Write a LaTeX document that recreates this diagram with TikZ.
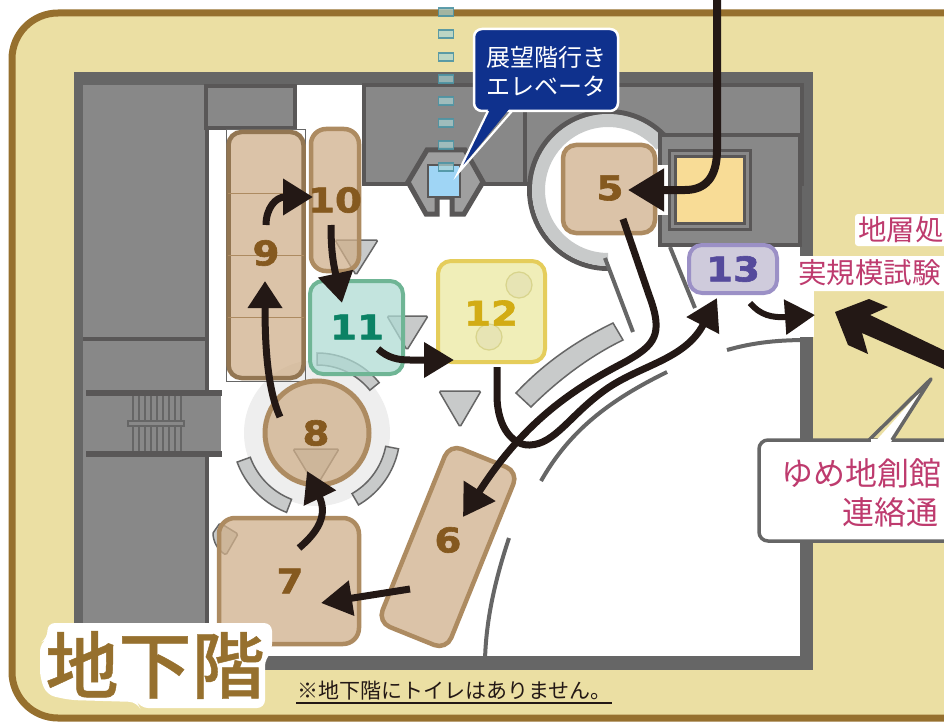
\documentclass[tikz,border=0pt]{standalone}
\usepackage{fontspec}
\usetikzlibrary{arrows.meta}
\newfontfamily\jp{Noto Sans CJK JP}
\newfontfamily\jpm[FakeBold=0.6]{Noto Sans CJK JP Medium}
\newfontfamily\numf[FakeStretch=1.14,FakeBold=1.8]{DejaVu Sans Bold}
\definecolor{sandc}{HTML}{EBDFA3}
\definecolor{brownc}{HTML}{96702E}
\definecolor{wallc}{HTML}{666666}
\definecolor{blockc}{HTML}{888888}
\definecolor{edgec}{HTML}{595757}
\definecolor{lightc}{HTML}{C8CACA}
\definecolor{tanc}{HTML}{D0B08B}
\definecolor{tanedge}{HTML}{AD8B61}
\definecolor{numc}{HTML}{85591F}
\definecolor{inkc}{HTML}{231815}
\definecolor{navyc}{HTML}{0F318D}
\definecolor{pinkc}{HTML}{BE3B6E}
\definecolor{mintc}{HTML}{AFDBD4}
\definecolor{mintedge}{HTML}{6FB595}
\definecolor{lemonc}{HTML}{F0EEB8}
\definecolor{lemonedge}{HTML}{E5CD5B}
\definecolor{lemontext}{HTML}{D2AC14}
\definecolor{lilacc}{HTML}{CFCBDC}
\definecolor{lilacedge}{HTML}{9B90C6}
\definecolor{lilactext}{HTML}{554A9C}
\definecolor{greentext}{HTML}{0B8265}
\definecolor{machinec}{HTML}{F8DC96}
\definecolor{skyc}{HTML}{9FD5F5}
\definecolor{dotedge}{HTML}{4E94A3}
\definecolor{dotfill}{HTML}{A9D3D3}
\newcommand{\sectorband}[7][]{\draw[bandc,#1] plot[domain=#6:#7,samples=24] ({#2+#4*cos(\x)},{#3+#4*sin(\x)}) -- plot[domain=#7:#6,samples=24] ({#2+#5*cos(\x)},{#3+#5*sin(\x)}) -- cycle;}
\tikzset{
  bandc/.style={fill=lightc,draw=wallc,line width=1.5pt},
  room/.style={draw=tanedge,fill=tanc,fill opacity=.75,line width=4.5pt,rounded corners=13pt,inner sep=0pt,outer sep=0pt},
  num/.style={font=\numf\fontsize{34}{34}\selectfont,text=numc,inner sep=0pt},
  flow/.style={draw=inkc,line width=7pt},
  headL/.style={-{Triangle[length=31pt,width=36pt]}},
  tri/.style={draw=wallc,fill=lightc,line width=1.5pt,rounded corners=1.5pt},
  arcw/.style={draw=wallc,line width=4pt},
  pink/.style={font=\jp\fontsize{28.5}{30}\selectfont,text=pinkc,inner sep=0pt},
  halo/.style={fill=white,rounded corners=3pt},
  elevdot/.style={draw=dotedge,fill=dotfill,line width=1.5pt,fill opacity=.7,draw opacity=.9,minimum width=15pt,minimum height=8pt,inner sep=0pt}
}
\begin{document}
\begin{tikzpicture}[x=1pt,y=-1pt]
\useasboundingbox (0,0) rectangle (944,722);
\clip (0,0) rectangle (944,722);
% site
\draw[fill=sandc,draw=brownc,line width=7pt,rounded corners=46pt] (12,13) rectangle (1000,718);
% building
\fill[wallc] (74,72) rectangle (813,670);
\fill[white] (84,85) rectangle (800,656);
% left block
\fill[blockc] (83,85) rectangle (205,656);
\fill[edgec] (205,85) rectangle (209,656);
\fill[edgec] (83,337) rectangle (205,341);
\fill[blockc] (86,393) rectangle (221,455);
\fill[edgec] (86,390) rectangle (222,396);
\fill[edgec] (86,451) rectangle (222,457);
\foreach \sx in {133,139,...,181} {\draw[wallc,line width=1.6pt] (\sx,396) -- (\sx,451);}
\draw[fill=blockc,draw=wallc,line width=2pt] (128,421) rectangle (184,426);
% upper left small block
\draw[fill=blockc,draw=edgec,line width=4.5pt] (206,86) rectangle (295,128);
% top block
\draw[fill=blockc,draw=edgec,line width=4pt] (364,85) rectangle (802,184);
\draw[edgec,line width=3.5pt] (525,85) -- (525,184);
% ring
\fill[white] (608,190) circle[radius=65pt];
\fill[white] (540,186) rectangle (660,260);
\draw[edgec,line width=5pt] plot[domain=90:320,samples=60] ({608+78.5*cos(\x)},{190+78.5*sin(\x)});
\draw[lightc,line width=13pt] plot[domain=90:320,samples=60] ({608+69.5*cos(\x)},{190+69.5*sin(\x)});
\draw[wallc,line width=4pt] (605,258) -- (633,332);
\draw[wallc,line width=4pt] (670,247) -- (695,308);
% elevator machine block
\draw[fill=blockc,draw=edgec,line width=4.5pt] (660,135) rectangle (800,245);
\fill[white] (656,165) rectangle (668,215);
\fill[edgec] (668,149) rectangle (752,231);
\fill[blockc] (671,152) rectangle (749,228);
\fill[edgec] (674,155) rectangle (746,225);
\fill[machinec] (677,158) rectangle (743,222);
% elevator
\draw[fill=gray!75,draw=edgec,line width=5pt,line join=miter] (408,182) -- (427,150) -- (465,150) -- (483,182) -- (464,214) -- (452,214) -- (452,197) -- (437,197) -- (437,214) -- (426,214) -- cycle;
\draw[fill=skyc,draw=edgec,line width=1.2pt] (428,165) rectangle (460,197);
\fill[skyc] (431,169) rectangle (458,194);
% site arcs
\draw[arcw] (727,350) .. controls (755,342) and (780,340) .. (808,340);
\draw[arcw] (541,481) .. controls (570,430) and (610,400) .. (667,372);
\draw[arcw] (509,538) .. controls (495,580) and (486,620) .. (485,660);
% big curved band
\draw[bandc] (516,393) .. controls (545,362) and (578,340) .. (613,323) -- (623,340) .. controls (590,356) and (558,380) .. (531,407) -- cycle;
% halo of 8
\fill[gray!13] (317,433) circle[radius=73pt];
\sectorband{317}{433}{71}{85}{111}{160}
\sectorband{317}{433}{70}{83}{11}{60}
% markers that lie under the translucent rooms
\draw[tri] (335,240) -- (378,240) -- (356,275) -- cycle;
\draw[tri] (387,316) -- (428,316) -- (407,350) -- cycle;
\sectorband{317}{433}{68}{80}{-90}{-39}
\draw[tri] (293,449) -- (339,449) -- (316,487) -- cycle;
\draw[tri] (213,533) -- (220,523) -- (238,534) -- (226,555) .. controls (218,550) and (213,542) .. (213,533);
% room 9
\draw[wallc,line width=1pt] (226,130) rectangle (305,381);
\node[room,draw=tanedge!85!black,minimum width=75pt,minimum height=246pt] (r9) at (266,255) {};
\foreach \ly in {193,255,317} {\draw[tanedge,line width=1pt] (228,\ly) -- (304,\ly);}
\node[num] (t9) at (266,253) {9};
% room 10
\node[room,minimum width=48pt,minimum height=142pt,rounded corners=15pt] (r10) at (335,200) {};
\node[num] (t10) at (335,200) {10};
% room 11
\node[room,draw=mintedge,fill=mintc,line width=4pt,minimum width=93pt,minimum height=93pt] (r11) at (356.5,327.5) {};
\node[num,text=greentext] (t11) at (357,327) {11};
% room 12
\node[room,draw=lemonedge,fill=lemonc,fill opacity=1,line width=4pt,minimum width=107pt,minimum height=101pt] (r12) at (491.5,311.5) {};
\draw[draw=olive!35!white,fill=olive!22!white,line width=1.2pt] (519,285) circle[radius=13pt];
\draw[draw=olive!35!white,fill=olive!22!white,line width=1.2pt] (489,337) circle[radius=13pt];
\node[num,text=lemontext] (t12) at (491,313) {12};
% room 13
\node[room,draw=lilacedge,fill=lilacc,fill opacity=1,line width=4pt,minimum width=88pt,minimum height=48pt] (r13) at (733,269) {};
\node[num,text=lilactext] (t13) at (733,269) {13};
% room 5
\node[room,minimum width=92pt,minimum height=88pt] (r5) at (609,189) {};
\node[num] (t5) at (610,188) {5};
% room 8
\draw[draw=tanedge,fill=tanc,fill opacity=.75,line width=5pt] (317,433) circle[radius=52pt];
\node[num] (t8) at (316,433) {8};
% room 7
\node[room,rounded corners=16pt,minimum width=140pt,minimum height=126pt] (r7) at (289,581) {};
\node[num] (t7) at (290,581) {7};
% room 6
\node[room,minimum width=74pt,minimum height=192pt,rotate=-22] (r6) at (448,547) {};
\node[num] (t6) at (448,540) {6};
% free triangle
\draw[tri] (439,391) -- (481,391) -- (460,427) -- cycle;
% elevator shaft dots
\foreach \dy in {12,34,57,79,101,123,145,167} {\node[elevdot] at (446,\dy) {};}
% callout
\draw[fill=navyc,draw=white,line width=2.5pt,rounded corners=8pt] (474,29) rectangle (618,111);
\fill[navyc] (489,108) -- (458,172) -- (510,108) -- cycle;
\draw[white,line width=2.2pt] (488,111) -- (458,173) -- (512,111);
\fill[navyc] (490,105) rectangle (509,109);
\node[font=\jp\fontsize{24}{29}\selectfont,text=white,align=center,inner sep=0pt] (callout) at (546,71) {展望階行き\\エレベータ};
% notice bubble
\draw[fill=white,draw=wallc,line width=3.5pt,line join=round,rounded corners=9pt] (759,440) rectangle (1000,541);
\fill[white] (872,445) -- (930,381) -- (889,445) -- cycle;
\draw[wallc,line width=3.5pt,line join=round] (869,440) -- (931,379) -- (892,440);
\fill[white] (871,439) rectangle (890,443);
\node[anchor=west,font=\jp\fontsize{32}{32}\selectfont,text=pinkc,inner sep=0pt] (nb1) at (781,473) {ゆめ地創館};
\node[anchor=west,font=\jp\fontsize{32}{32}\selectfont,text=pinkc,inner sep=0pt] (nb2) at (842,512) {連絡通};
% entrance gap and pink label
\fill[white] (800,290) rectangle (814,337);
\fill[halo] (855,214) rectangle (950,246);
\fill[halo] (796,256) rectangle (950,291);
\node[pink,anchor=west] (lab1) at (858,230) {地層処};
\node[pink,anchor=west] (lab2) at (798,273) {実規模試験};
% arrow coordinates
\coordinate (inTop) at (717,-5);
\coordinate (in5) at (628,190);
\coordinate (out5) at (623,219);
\coordinate (in6) at (463,517);
\coordinate (out12) at (497,367);
\coordinate (in13) at (717,298);
\coordinate (out13) at (750,303);
\coordinate (exit13) at (815,315);
\coordinate (out6) at (410,589);
\coordinate (in7) at (321,603);
\coordinate (out7) at (299,548);
\coordinate (in8) at (307,471);
\coordinate (out8) at (280,417);
\coordinate (in9) at (265,281);
\coordinate (out9) at (266,225);
\coordinate (in10) at (313,197);
\coordinate (out10) at (331,225);
\coordinate (in11) at (342,303);
\coordinate (out11) at (378,349);
\coordinate (in12) at (454,360);
% arrows
\draw[flow,line width=8pt,-{Triangle[length=36pt,width=41pt]}] (inTop) -- (717,150) .. controls (717,178) and (705,190) .. (685,190) -- (in5);
\draw[flow,headL] (out5) -- (649,295) .. controls (664,335) and (655,345) .. (625,362) .. controls (575,388) and (525,420) .. (in6);
\draw[flow,-{Triangle[length=31pt,width=35pt]}] (out12) -- (497,395) .. controls (497,430) and (515,446) .. (530,445) .. controls (555,444) and (570,415) .. (605,390) .. controls (640,365) and (685,360) .. (in13);
\draw[flow,line width=6pt,-{Triangle[length=30pt,width=34pt]}] (out13) .. controls (760,315) and (772,318) .. (exit13);
\draw[flow,-{Triangle[length=31pt,width=34pt]}] (out6) -- (in7);
\draw[flow,-{Triangle[length=30pt,width=34pt]}] (out7) .. controls (318,532) and (328,515) .. (in8);
\draw[flow,-{Triangle[length=27pt,width=33pt]}] (out8) .. controls (268,390) and (265,350) .. (in9);
\draw[flow,-{Triangle[length=30pt,width=35pt]}] (out9) .. controls (266,208) and (276,197) .. (in10);
\draw[flow,-{Triangle[length=30pt,width=34pt]}] (out10) .. controls (331,250) and (333,262) .. (in11);
\draw[flow,-{Triangle[length=30pt,width=34pt]}] (out11) .. controls (388,358) and (398,360) .. (410,360) -- (in12);
% big arrow
\fill[inkc] (835,312) -- (869,299) -- (888,307) -- (870,315) -- (960,358) -- (960,376) -- (862,333) -- (868,354) -- (848,345) -- cycle;
% title
\fill[white,rounded corners=8pt] (47,623) -- (272,623) -- (272,652) -- (265,658) -- (265,708) -- (140,708) -- (137,702) -- (70,700) -- (47,695) -- (40,678) -- (40,643) -- (48,638) -- cycle;
\node[font=\jpm\fontsize{73}{73}\selectfont,text=brownc,inner sep=0pt] (title) at (155,665) {地下階};
% footer
\node[font=\jp\fontsize{21}{21}\selectfont,text=inkc,inner sep=1pt,anchor=west] (foot) at (296,691) {※地下階にトイレはありません。};
\draw[inkc,line width=1.2pt] (296,703) -- (612,703);
\end{tikzpicture}
\end{document}
